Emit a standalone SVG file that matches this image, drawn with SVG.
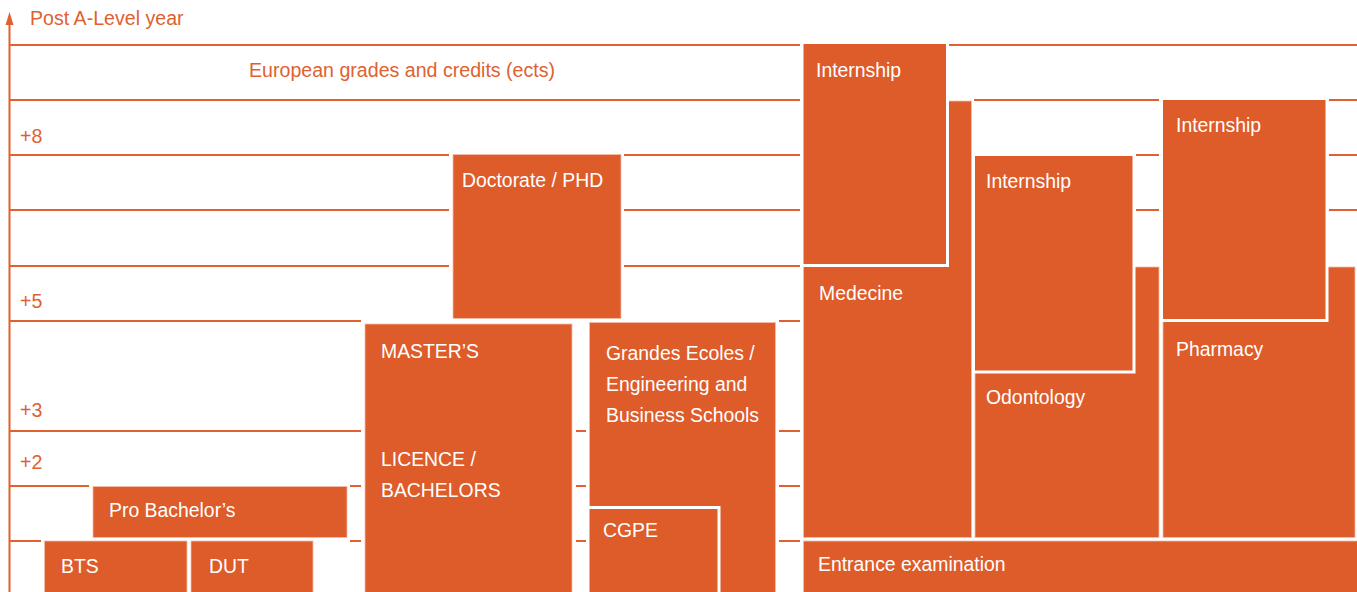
<svg xmlns="http://www.w3.org/2000/svg" width="1357" height="592" viewBox="0 0 1357 592">
<defs>
<style>
.ln{stroke:#E0612F;stroke-width:2;fill:none}
.bx{fill:#DE5B2A;stroke:#F2BFA8;stroke-width:0.8}
.ov{fill:#DE5B2A;stroke:#FFFFFF;stroke-width:6;paint-order:stroke}
.lab{font-family:"Liberation Sans",Arial,Helvetica,sans-serif;font-size:19.6px;fill:#E0612F}
.wt{font-family:"Liberation Sans",Arial,Helvetica,sans-serif;font-size:19.4px;fill:#FFFFFF}
</style>
</defs>
<rect width="1357" height="592" fill="#FFFFFF"/>
<g id="connectors">
<line class="ln" x1="9.5" y1="22" x2="9.5" y2="592"/>
<polygon points="9.5,12 13.5,25 5.5,25" fill="#E0612F"/>
<path class="ln" d="M9,45H800M949,45H1357
M9,100H800M974,100H1159M1329,100H1357
M9,155H449M624,155H800M1136,155H1159M1329,155H1357
M9,210H449M624,210H800M1136,210H1159M1329,210H1357
M9,266H449M624,266H800
M9,321H361M779,321H800
M9,431H361M576,431H586M779,431H800
M9,486H89M350,486H361M576,486H586M779,486H800
M9,541H41M350,541H361M576,541H586M779,541H800"/>
</g>
<g id="axis-labels">
<text class="lab" x="30" y="25">Post A-Level year</text>
<text class="lab" x="249" y="77">European grades and credits (ects)</text>
<text class="lab" x="20" y="143">+8</text>
<text class="lab" x="20" y="308">+5</text>
<text class="lab" x="20" y="417">+3</text>
<text class="lab" x="20" y="469">+2</text>
</g>
<g id="doctorate">
<rect class="bx" x="453" y="154.5" width="168" height="164"/>
<text class="wt" x="462" y="187">Doctorate / PHD</text>
</g>
<g id="masters-licence">
<rect class="bx" x="365" y="324" width="207" height="270"/>
<text class="wt" x="381" y="358">MASTER’S</text>
<text class="wt" x="381" y="466">LICENCE /</text>
<text class="wt" x="381" y="497">BACHELORS</text>
</g>
<g id="grandes-ecoles">
<rect class="bx" x="589.5" y="322.5" width="186" height="272"/>
<text class="wt" x="606" y="360">Grandes Ecoles /</text>
<text class="wt" x="606" y="391">Engineering and</text>
<text class="wt" x="606" y="422">Business Schools</text>
</g>
<g id="cgpe">
<rect class="ov" x="589.5" y="509" width="128" height="90"/>
<text class="wt" x="603" y="537">CGPE</text>
</g>
<g id="pro-bachelor">
<rect class="bx" x="93" y="486.5" width="254" height="51"/>
<text class="wt" x="109" y="517">Pro Bachelor’s</text>
</g>
<g id="bts">
<rect class="bx" x="44.5" y="541" width="142.5" height="53"/>
<text class="wt" x="61" y="573">BTS</text>
</g>
<g id="dut">
<rect class="bx" x="191" y="541" width="122" height="53"/>
<text class="wt" x="209" y="573">DUT</text>
</g>
<g id="medecine">
<rect class="bx" x="803.5" y="101" width="168" height="436.5"/>
<text class="wt" x="819" y="300">Medecine</text>
</g>
<g id="medecine-internship">
<rect class="ov" x="803.5" y="44" width="142.5" height="220"/>
<text class="wt" x="816" y="77">Internship</text>
</g>
<g id="odontology">
<rect class="bx" x="975" y="267" width="184" height="270.5"/>
<text class="wt" x="986" y="404">Odontology</text>
</g>
<g id="odontology-internship">
<rect class="ov" x="975" y="156" width="157.5" height="214.5"/>
<text class="wt" x="986" y="188">Internship</text>
</g>
<g id="pharmacy">
<rect class="bx" x="1163" y="267" width="192" height="270.5"/>
<text class="wt" x="1176" y="356">Pharmacy</text>
</g>
<g id="pharmacy-internship">
<rect class="ov" x="1163" y="100" width="162.5" height="219"/>
<text class="wt" x="1176" y="132">Internship</text>
</g>
<g id="entrance-examination">
<rect class="bx" x="803.5" y="541" width="556" height="53"/>
<text class="wt" x="818" y="571">Entrance examination</text>
</g>
</svg>
